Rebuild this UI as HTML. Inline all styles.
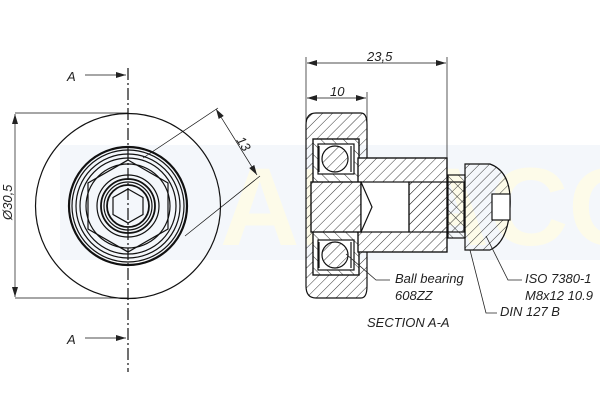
<!DOCTYPE html>
<html><head><style>html,body{margin:0;padding:0;background:#fff}svg{display:block}text{font-family:"Liberation Sans",sans-serif;font-style:italic;fill:#222}</style></head>
<body>
<svg width="600" height="400" viewBox="0 0 600 400" xmlns="http://www.w3.org/2000/svg">
<defs>
<pattern id="h" width="7" height="7" patternUnits="userSpaceOnUse" patternTransform="rotate(45)"><line x1="0" y1="0" x2="0" y2="7" stroke="#222" stroke-width="0.9"/></pattern>
<pattern id="h2" width="8" height="8" patternUnits="userSpaceOnUse" patternTransform="rotate(-45)"><line x1="0" y1="0" x2="0" y2="8" stroke="#222" stroke-width="0.9"/></pattern>
<marker id="ar" viewBox="0 0 10 6" refX="10" refY="3" markerWidth="10" markerHeight="6" orient="auto-start-reverse" markerUnits="userSpaceOnUse"><path d="M0,0L10,3L0,6z" fill="#222"/></marker>
</defs>
<rect x="60" y="145" width="540" height="115" fill="#f4f7fb"/>
<text x="220" y="245" font-size="110" font-weight="bold" style="font-style:normal;fill:#fdfbe9">ADIACO</text>
<g fill="none" stroke="#111" stroke-width="1.2">
<circle cx="128" cy="206" r="92.5"/>
<circle cx="128" cy="206" r="59" stroke-width="2.2"/>
<circle cx="128" cy="206" r="56"/>
<circle cx="128" cy="206" r="52"/>
<circle cx="128" cy="206" r="48"/>
<circle cx="128" cy="206" r="42"/>
<circle cx="128" cy="206" r="31"/>
<circle cx="128" cy="206" r="27" stroke-width="1.8"/>
<circle cx="128" cy="206" r="24"/>
<circle cx="128" cy="206" r="21" stroke-width="1.8"/>
<polygon points="128,160 168,183 168,229 128,252 88,229 88,183"/>
<polygon points="128,189 143,197.5 143,214.5 128,223 113,214.5 113,197.5"/>
<line x1="128" y1="68" x2="128" y2="372" stroke-dasharray="12,3,2,3"/>
<line x1="85" y1="75" x2="126" y2="75" marker-end="url(#ar)" stroke-width="0.8"/>
<line x1="85" y1="338" x2="126" y2="338" marker-end="url(#ar)" stroke-width="0.8"/>
<line x1="15" y1="113" x2="128" y2="113" stroke-width="0.7"/>
<line x1="15" y1="298" x2="128" y2="298" stroke-width="0.7"/>
<line x1="15" y1="114" x2="15" y2="297" stroke-width="0.7" marker-start="url(#ar)" marker-end="url(#ar)"/>
<line x1="143" y1="158" x2="218" y2="108" stroke-width="0.7"/>
<line x1="185" y1="236" x2="260" y2="176" stroke-width="0.7"/>
<line x1="216" y1="109" x2="257" y2="175" stroke-width="0.7" marker-start="url(#ar)" marker-end="url(#ar)"/>
<line x1="306" y1="57" x2="306" y2="125" stroke-width="0.7"/>
<line x1="447" y1="57" x2="447" y2="160" stroke-width="0.7"/>
<line x1="367" y1="92" x2="367" y2="125" stroke-width="0.7"/>
<line x1="307" y1="63" x2="446" y2="63" stroke-width="0.7" marker-start="url(#ar)" marker-end="url(#ar)"/>
<line x1="307" y1="98" x2="366" y2="98" stroke-width="0.7" marker-start="url(#ar)" marker-end="url(#ar)"/>
</g>
<g stroke="#111" stroke-width="1.2">
<path d="M316,113 H361 Q367,113 367,125 V286 Q367,298 361,298 H316 Q306,298 306,286 V125 Q306,113 316,113Z" fill="url(#h)"/>
<rect x="313" y="139" width="46" height="136" fill="#fff"/>
<rect x="313" y="139" width="46" height="136" fill="url(#h2)"/>
<rect x="318" y="144" width="36" height="30" fill="#fff"/>
<rect x="318" y="240" width="36" height="30" fill="#fff"/>
<circle cx="335" cy="159" r="13" fill="url(#h)"/>
<circle cx="335" cy="255" r="13" fill="url(#h)"/>
<line x1="319" y1="146" x2="319" y2="172"/><line x1="351" y1="146" x2="351" y2="172"/>
<line x1="319" y1="242" x2="319" y2="268"/><line x1="351" y1="242" x2="351" y2="268"/>
<rect x="358" y="158" width="89" height="94" fill="#fff"/>
<rect x="358" y="158" width="89" height="94" fill="url(#h)"/>
<rect x="311" y="182" width="50" height="50" fill="#fff"/>
<rect x="311" y="182" width="50" height="50" fill="url(#h)"/>
<rect x="361" y="182" width="48" height="50" fill="#fff"/>
<path d="M361,182 L372,207 L361,232" fill="none"/>
<rect x="409" y="182" width="55" height="50" fill="url(#h)"/>
<rect x="448" y="175" width="17" height="63" fill="url(#h2)"/>
<path d="M465,164 H490 Q512,172 510,207 Q508,242 490,250 H465Z" fill="url(#h)"/>
<rect x="492" y="194" width="18" height="26" fill="#fff"/>
</g>
<g fill="none" stroke="#222" stroke-width="0.8">
<path d="M346,254 L376,280 H390"/>
<path d="M486,236 L508,280 H522"/>
<path d="M470,250 L486,313 H497"/>
</g>
<text x="67" y="81" font-size="13">A</text>
<text x="67" y="344" font-size="13">A</text>
<text x="0" y="0" font-size="13" transform="translate(12,220) rotate(-90)">Ø30,5</text>
<text x="0" y="0" font-size="13" transform="translate(236,140) rotate(58)">13</text>
<text x="367" y="61" font-size="13">23,5</text>
<text x="330" y="96" font-size="13">10</text>
<text x="395" y="283" font-size="13">Ball bearing</text>
<text x="395" y="300" font-size="13">608ZZ</text>
<text x="525" y="283" font-size="13">ISO 7380-1</text>
<text x="525" y="300" font-size="13">M8x12 10.9</text>
<text x="500" y="316" font-size="13">DIN 127 B</text>
<text x="367" y="327" font-size="13">SECTION A-A</text>
</svg>
</body></html>
